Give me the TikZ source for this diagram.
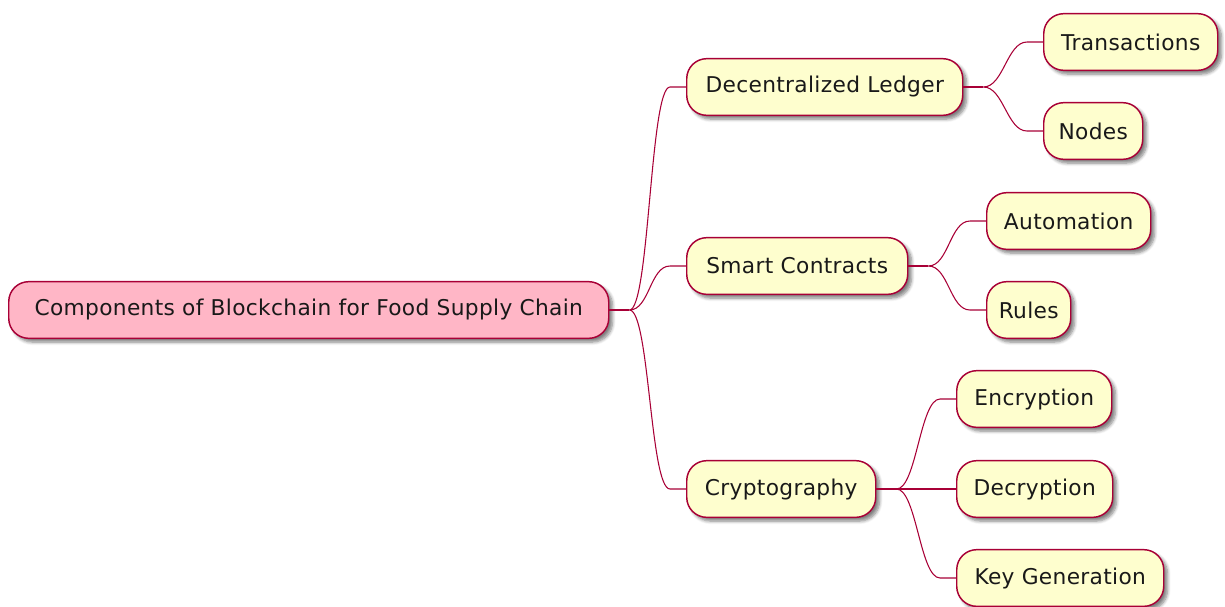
\documentclass[tikz,border=0pt]{standalone}
\usepackage{fontspec}
\setmainfont{DejaVu Sans}[LetterSpace=1.5]
\usetikzlibrary{shadows.blur}
\definecolor{edge}{HTML}{A80036}
\definecolor{leaf}{HTML}{FEFECE}
\definecolor{rootfill}{HTML}{FFB6C6}
\tikzset{
  topic/.style={draw=edge, line width=1.1pt, fill=leaf, rounded corners=15pt,
    anchor=west, minimum height=42.5pt, minimum width=#1*0.75pt,
    inner xsep=7pt, inner ysep=0pt,
    font=\fontsize{16.3}{19}\selectfont, text=black!90,
    blur shadow={shadow xshift=2.8pt, shadow yshift=-2.8pt, shadow blur steps=6,
      shadow blur radius=2.4pt, shadow opacity=50}},
  topic/.default=60,
  roottopic/.style={topic=#1, fill=rootfill},
  link/.style={draw=edge, line width=0.8pt}
}
\newcommand\branch[2]{%
  \draw[link] (#1) .. controls +(20,0) and +(-20,0) .. ([xshift=-12pt]#2.west) -- (#2.west);}
\begin{document}
\begin{tikzpicture}[x=0.75pt, y=-0.75pt]
\useasboundingbox (0,0) rectangle (1225,607);
% topics, placed by their left edge and vertical centre; widths in px
\node[roottopic=600] (root) at (8,310) {Components of Blockchain for Food Supply Chain};
\node[topic=276] (ledger) at (686,87) {Decentralized Ledger};
\node[topic=221] (smart) at (686,266) {Smart Contracts};
\node[topic=189] (crypto) at (686,489) {Cryptography};
\node[topic=174] (tx) at (1043,42) {Transactions};
\node[topic=99] (nodes) at (1043,131) {Nodes};
\node[topic=164] (auto) at (986,221) {Automation};
\node[topic=84] (rules) at (986,310) {Rules};
\node[topic=155] (enc) at (956,399) {Encryption};
\node[topic=156] (dec) at (956,489) {Decryption};
\node[topic=207] (key) at (956,578) {Key Generation};
% forks just right of each parent
\draw[link] (root.east) -- ++(20,0) coordinate (f0);
\draw[link] (ledger.east) -- ++(20,0) coordinate (f1);
\draw[link] (smart.east) -- ++(20,0) coordinate (f2);
\draw[link] (crypto.east) -- ++(20,0) coordinate (f3);
% branches from forks to children
\branch{f0}{ledger}
\branch{f0}{smart}
\branch{f0}{crypto}
\branch{f1}{tx}
\branch{f1}{nodes}
\branch{f2}{auto}
\branch{f2}{rules}
\branch{f3}{enc}
\branch{f3}{dec}
\branch{f3}{key}
\end{tikzpicture}
\end{document}
